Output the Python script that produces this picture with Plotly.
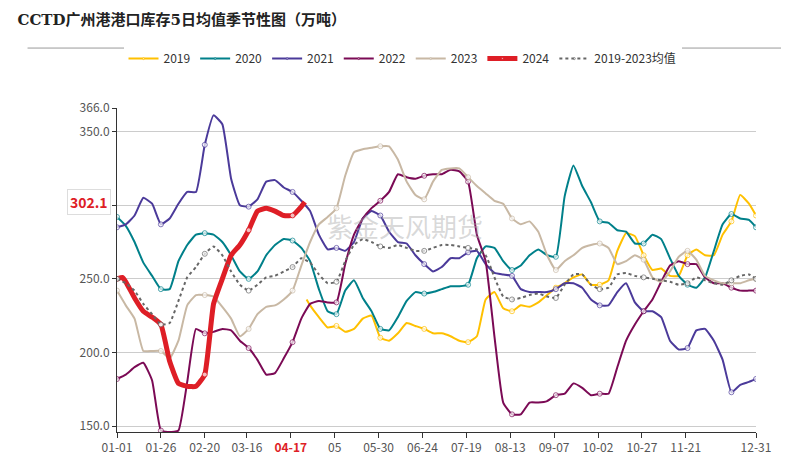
import plotly.graph_objects as go

days = list(range(0, 361, 5)) + [364]
tick_days = [0, 25, 50, 74, 99, 124, 149, 174, 199, 224, 249, 274, 299, 324, 364]
tick_labels = ["01-01", "01-26", "02-20", "03-16", "04-17", "05", "05-30", "06-24", "07-19",
               "08-13", "09-07", "10-02", "10-27", "11-21", "12-31"]

s2019_days = [108, 110, 115, 120] + list(range(125, 361, 5)) + [364]
s2019 = [236, 232, 224, 217, 218, 214, 216, 223, 225, 210, 208, 213, 220, 218, 216, 213, 213, 211, 208, 207,
         211, 236, 241, 230, 228, 232, 231, 234, 239, 244, 247, 251, 253, 246, 246, 249, 269, 281, 279, 266,
         256, 257, 252, 252, 266, 270, 266, 266, 280, 289, 307, 301, 293]
s2020 = [292, 286, 275, 261, 252, 243, 243, 262, 273, 280, 281, 280, 275, 266, 255, 250, 255, 266, 273, 277,
         276, 271, 262, 243, 228, 226, 242, 249, 237, 228, 216, 215, 224, 235, 241, 240, 241, 243, 245, 245,
         246, 264, 272, 271, 262, 256, 259, 266, 270, 266, 265, 306, 327, 313, 302, 289, 288, 283, 282, 274,
         274, 280, 277, 264, 252, 246, 244, 251, 269, 287, 294, 291, 290, 285]
s2021 = [285, 287, 293, 305, 301, 287, 291, 301, 309, 309, 341, 361, 355, 318, 300, 299, 304, 316, 317, 312,
         309, 303, 296, 280, 270, 271, 269, 275, 291, 296, 293, 282, 275, 274, 266, 260, 255, 258, 264, 264,
         268, 269, 260, 254, 253, 252, 243, 241, 241, 241, 243, 247, 247, 244, 236, 232, 232, 241, 247, 234,
         228, 228, 224, 208, 202, 203, 215, 216, 208, 195, 173, 178, 180, 182]
s2022 = [182, 185, 190, 193, 181, 147, 146, 147, 180, 216, 213, 214, 216, 215, 208, 203, 195, 185, 186, 196,
         207, 223, 233, 235, 234, 234, 260, 280, 291, 298, 303, 309, 321, 319, 318, 320, 321, 321, 324, 323,
         316, 280, 262, 211, 166, 158, 158, 166, 166, 167, 171, 172, 179, 176, 171, 172, 172, 190, 208, 219,
         228, 236, 248, 259, 262, 260, 260, 251, 247, 247, 244, 242, 242, 242]
s2023 = [242, 232, 223, 201, 201, 201, 196, 208, 232, 239, 239, 238, 231, 223, 211, 216, 226, 231, 232, 236,
         242, 259, 275, 287, 292, 298, 320, 336, 338, 339, 340, 340, 331, 316, 307, 304, 316, 324, 325, 325,
         319, 313, 308, 303, 301, 291, 287, 289, 282, 266, 256, 262, 266, 271, 273, 274, 271, 260, 262, 266,
         263, 251, 248, 255, 265, 269, 263, 252, 249, 247, 247, 247, 249, 250]
s2024_days = [0, 3] + list(range(5, 106, 5)) + [107]
s2024 = [250, 251, 248, 237, 228, 224, 219, 194, 179, 177, 177, 185, 233, 250, 266, 273, 283, 296, 298, 296,
         293, 293, 299, 302.1]
savg = [250, 247, 242, 233, 226, 219, 220, 235, 251, 258, 267, 272, 266, 255, 246, 242, 246, 251, 252, 255,
        258, 264, 261, 253, 247, 248, 262, 273, 277, 275, 272, 271, 273, 271, 269, 269, 271, 273, 273, 272,
        271, 270, 266, 251, 238, 236, 237, 239, 240, 238, 237, 246, 253, 253, 246, 243, 244, 253, 254, 252,
        251, 250, 249, 248, 246, 247, 251, 249, 247, 246, 249, 252, 253, 250]

fig = go.Figure()

def add(name, x, y, color, width=2, dash="solid"):
    sizes = [5 if (d % 25 == 0 or d == 364) else 0 for d in x]
    fig.add_trace(go.Scatter(
        x=x, y=y, name=name, mode="lines+markers",
        line=dict(color=color, width=width, dash=dash, shape="spline", smoothing=0.4),
        marker=dict(size=sizes, color="white", line=dict(color=color, width=1)),
    ))

add("2019", s2019_days, s2019, "#FFC000")
add("2020", days, s2020, "#00808A")
add("2021", days, s2021, "#4B3A9A")
add("2022", days, s2022, "#7B0A55")
add("2023", days, s2023, "#C8B8A4")
add("2024", s2024_days, s2024, "#DE1E26", width=5)
add("2019-2023均值", days, savg, "#666666", dash="dot")

ticktext = [f"<span style='color:#DE1E26'><b>{t}</b></span>" if t == "04-17" else t for t in tick_labels]

fig.update_layout(
    width=789, height=460,
    margin=dict(l=109, r=41, t=100, b=36, autoexpand=False),
    plot_bgcolor="white", paper_bgcolor="white",
    font=dict(family="Noto Sans CJK SC, DejaVu Sans", size=12, color="#333"),
    title=dict(text="<b>CCTD广州港港口库存5日均值季节性图（万吨）</b>", x=0.012, y=0.985,
               xanchor="left", yanchor="top", xref="container", yref="container",
               font=dict(family="DejaVu Serif, Noto Sans CJK SC", size=15, color="#222")),
    legend=dict(orientation="h", x=0.5, xanchor="center", y=0.89, yanchor="middle",
                yref="container", xref="container",
                font=dict(size=12, color="#333"), itemwidth=30),
    showlegend=True,
    xaxis=dict(range=[0, 364], tickmode="array", tickvals=tick_days, ticktext=ticktext,
               showgrid=False, showline=True, linecolor="#333", ticks="outside", ticklen=5,
               tickcolor="#333", tickfont=dict(size=12, color="#555"), zeroline=False),
    yaxis=dict(range=[146, 366], tickmode="array", tickvals=[150, 200, 250, 300, 350, 366],
               ticktext=["150.0", "200.0", "250.0", "300.0", "350.0", "366.0"],
               showgrid=True, gridcolor="#cccccc", showline=True, linecolor="#333",
               ticks="outside", ticklen=4, tickcolor="#333",
               tickfont=dict(size=12, color="#555"), zeroline=False),
)

fig.add_shape(type="line", xref="paper", yref="paper", x0=-0.14, x1=1.04, y0=1.185, y1=1.185,
              line=dict(color="#999", width=1))
fig.add_annotation(text="紫金天风期货", xref="paper", yref="paper", x=0.45, y=0.7,
                   showarrow=False, font=dict(size=26, color="rgba(170,170,170,0.45)"))
fig.add_annotation(text="<b>302.1</b>", xref="paper", x=-0.01, xanchor="right", yref="y", y=302.1,
                   showarrow=False, font=dict(size=14, color="#DE1E26"), bgcolor="white",
                   bordercolor="#ddd", borderwidth=1, borderpad=2)

fig.write_html("out.html")
